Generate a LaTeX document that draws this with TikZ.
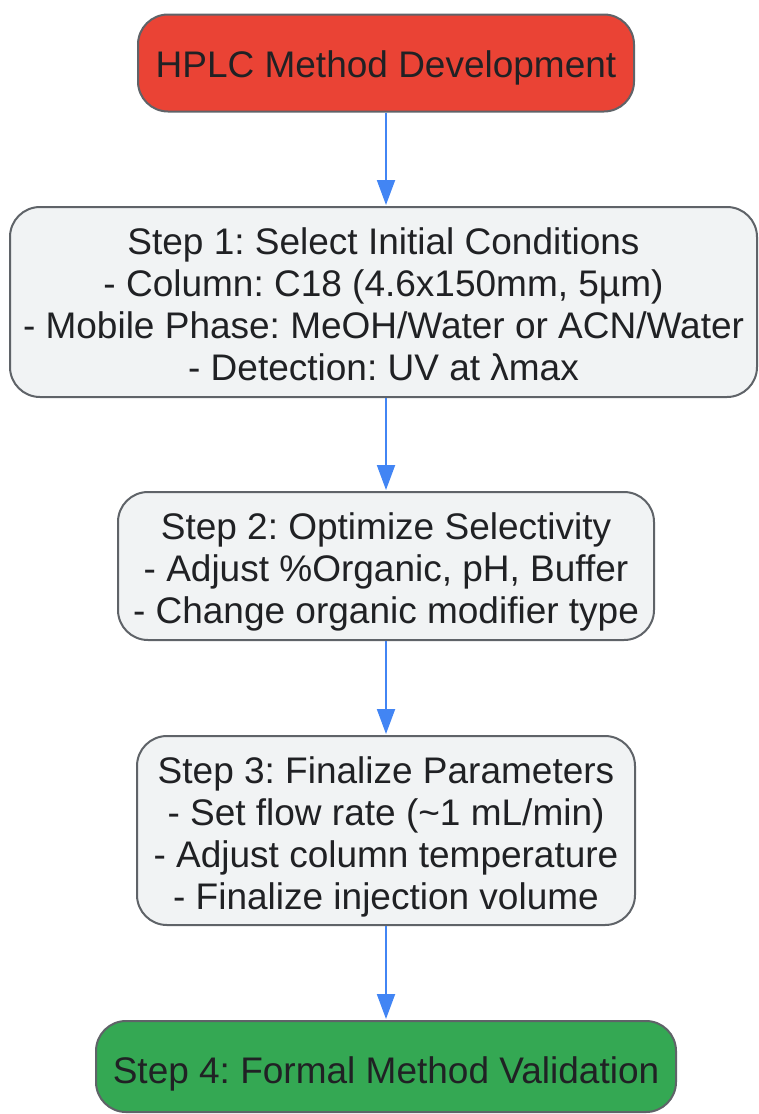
\documentclass[tikz,border=0pt]{standalone}
\usepackage{fontspec}
\setmainfont{Liberation Sans}
\usetikzlibrary{arrows.meta}
\definecolor{redfill}{HTML}{EA4335}
\definecolor{greenfill}{HTML}{34A853}
\definecolor{grayfill}{HTML}{F1F3F4}
\definecolor{edgegray}{HTML}{5F6368}
\definecolor{textdark}{HTML}{202124}
\definecolor{arrowblue}{HTML}{4285F4}
\tikzset{
  box/.style={draw=edgegray, line width=2pt, rounded corners=30pt, inner sep=0pt},
  graybox/.style={box, fill=grayfill},
  txt/.style={align=center, inner sep=0pt, text=textdark,
    font=\fontsize{37}{42}\selectfont},
  flow/.style={draw=arrowblue, line width=2pt, -{Triangle[length=25pt,width=18pt]}, shorten >=1pt}
}
\frenchspacing
\begin{document}
\begin{tikzpicture}[x=1pt,y=-1pt]
\useasboundingbox (0,0) rectangle (758,1114);
\node[box, fill=redfill, minimum width=496pt, minimum height=97pt] (top) at (386,63) {};
\node[graybox, minimum width=747pt, minimum height=190pt] (s1) at (383.5,302) {};
\node[graybox, minimum width=536pt, minimum height=148pt] (s2) at (386,566) {};
\node[graybox, minimum width=498pt, minimum height=189pt] (s3) at (386,830.5) {};
\node[box, fill=greenfill, minimum width=580pt, minimum height=91pt] (s4) at (386,1066.5) {};
\node[txt] (ttop) at ([yshift=-5pt]top.center) {\frenchspacing HPLC Method Development};
\node[txt] (t1) at ([yshift=-2pt]s1.center)
  {\frenchspacing Step 1: Select Initial Conditions\\- Column: C18 (4.6x150mm, 5µm)\\- Mobile Phase: MeOH/Water or ACN/Water\\- Detection: UV at λmax};
\node[txt] (t2) at ([yshift=-6pt]s2.center)
  {\frenchspacing Step 2: Optimize Selectivity\\- Adjust \%Organic, pH, Buffer\\- Change organic modifier type};
\node[txt] (t3) at ([yshift=-6pt]s3.center)
  {\frenchspacing Step 3: Finalize Parameters\\- Set flow rate (\textasciitilde1 mL/min)\\- Adjust column temperature\\- Finalize injection volume};
\node[txt] (t4) at ([yshift=-7pt]s4.center) {\frenchspacing Step 4: Formal Method Validation};
\draw[flow] (top.south) -- (top.south |- s1.north);
\draw[flow] (s1.south -| top.south) -- (s2.north);
\draw[flow] (s2.south) -- (s3.north);
\draw[flow] (s3.south) -- (s4.north);
\end{tikzpicture}
\end{document}
